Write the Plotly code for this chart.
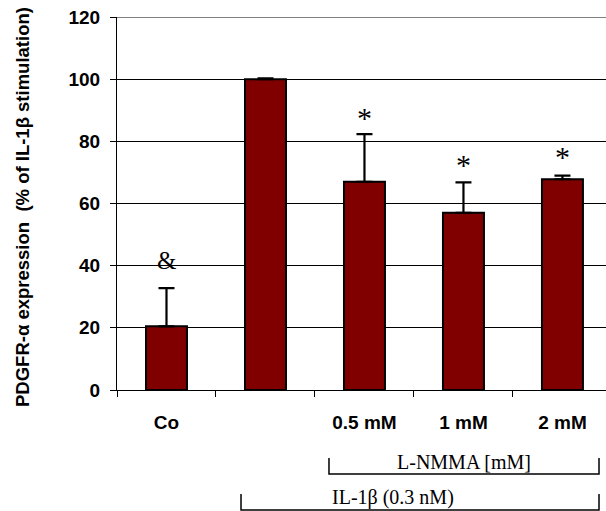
import plotly.graph_objects as go

categories = ["Co", " ", "0.5 mM", "1 mM", "2 mM"]
values = [20.5, 100, 67, 57, 67.8]
err_plus = [12.3, 0.3, 15.3, 9.8, 1.2]
marks = ["&", "", "*", "*", "*"]
mark_y = [41.7, None, 87.7, 72.5, 75.1]
y_ticks = [0, 20, 40, 60, 80, 100, 120]

fig = go.Figure()
fig.add_trace(go.Bar(
    x=categories, y=values, width=0.414,
    marker=dict(color="#800000", line=dict(color="black", width=2)),
    error_y=dict(type="data", symmetric=False, array=err_plus, arrayminus=[0]*5,
                 color="black", thickness=2.2, width=8),
    showlegend=False,
))

for c, m, yv in zip(categories, marks, mark_y):
    if m:
        fig.add_annotation(x=c, y=yv, xref="x", yref="y", text=m, showarrow=False,
                           xanchor="center", yanchor="middle",
                           font=dict(family="Liberation Serif, Times New Roman, serif",
                                     size=30 if m == "*" else 25, color="black"))

# top gridline (at 120)
fig.add_shape(type="line", xref="paper", yref="y", x0=0, x1=1, y0=y_ticks[-1], y1=y_ticks[-1],
              line=dict(color="black", width=1), layer="below")

# brackets
line = dict(color="black", width=1.5)
fig.add_shape(type="path", xref="paper", yref="paper",
              path="M 0.4335 -0.1823 L 0.4335 -0.2252 L 0.9857 -0.2252 L 0.9857 -0.1823",
              line=line)
fig.add_shape(type="path", xref="paper", yref="paper",
              path="M 0.2536 -0.2788 L 0.2536 -0.3217 L 0.9857 -0.3217 L 0.9857 -0.2788",
              line=line)
serif = dict(family="Liberation Serif, Times New Roman, serif", size=20, color="black")
fig.add_annotation(x=(464 - 117) / 489, y=(390 - 462) / 373, xref="paper", yref="paper",
                   xanchor="center", yanchor="middle",
                   text="L-NMMA [mM]", showarrow=False, font=serif)
fig.add_annotation(x=(393 - 117) / 489, y=(390 - 497) / 373, xref="paper", yref="paper",
                   xanchor="center", yanchor="middle",
                   text="IL-1β (0.3 nM)", showarrow=False, font=serif)

fig.add_annotation(x=(22 - 117) / 489, y=(390 - 207) / 373, xref="paper", yref="paper",
                   xanchor="center", yanchor="middle",
                   text="<b>PDGFR-α expression  (% of IL-1β stimulation)</b>", textangle=-90,
                   showarrow=False,
                   font=dict(family="Liberation Sans, Arial, sans-serif", size=18.5, color="black"))

bold = dict(size=19, family="Liberation Sans, Arial, sans-serif", weight="bold", color="black")
fig.update_layout(
    width=606, height=511,
    margin=dict(l=117, r=0, t=17, b=121),
    paper_bgcolor="white", plot_bgcolor="white",
    font=dict(family="Liberation Sans, Arial, sans-serif", color="black"),
    xaxis=dict(type="category", range=[-0.5, 4.44], showline=True, linecolor="black",
               linewidth=1, ticks="outside", ticklen=6, tickcolor="black",
               tickson="boundaries", showgrid=False, ticklabelstandoff=15,
               tickfont=bold),
    yaxis=dict(range=[0, 120], tickvals=y_ticks, showline=True, linecolor="black",
               linewidth=1, ticks="outside", ticklen=6, tickcolor="black",
               showgrid=True, gridcolor="black", gridwidth=1, zeroline=False,
               ticklabelstandoff=6, ticklabeloverflow="allow", tickfont=bold),
)

fig.write_html("out.html", config={"displayModeBar": False},
               post_script="document.body.style.margin='0';document.body.style.overflow='hidden';")
